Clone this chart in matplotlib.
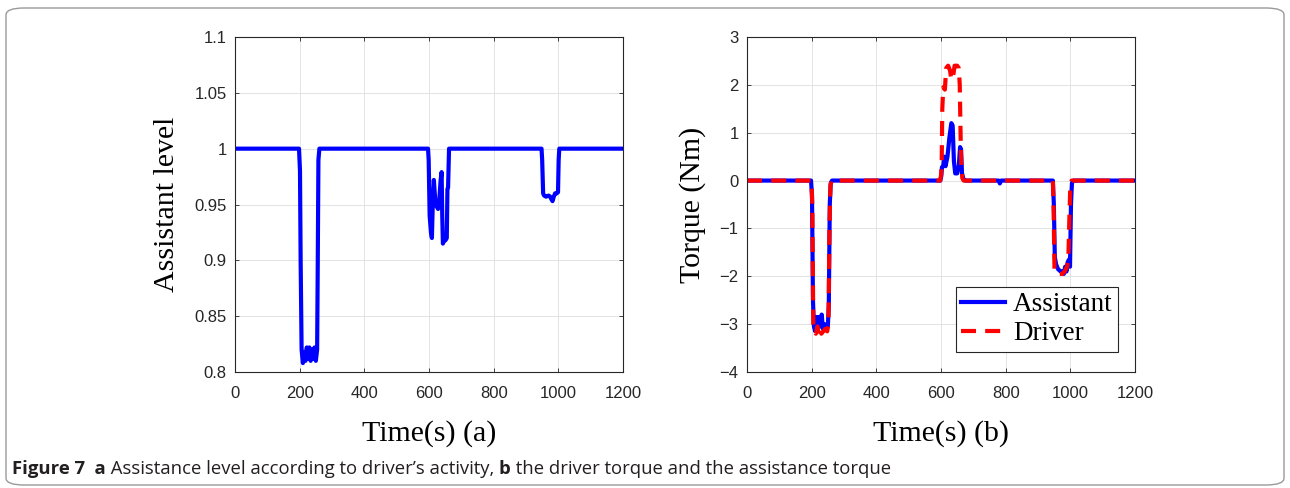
import matplotlib
matplotlib.use("Agg")
import matplotlib.pyplot as plt
from matplotlib.patches import FancyBboxPatch

# --- data ---
# (a) assistance level
level_t = [0, 198, 201, 203, 206, 210, 214, 218, 222, 226, 230, 234, 238, 242, 246, 250, 254, 256, 258, 261,
           597, 599, 602, 606, 609, 612, 615, 619, 624, 628, 632, 636, 639, 641, 643, 647, 651, 655, 657, 659, 662,
           948, 950, 953, 956, 962, 970, 975, 978, 982, 986, 990, 995, 999, 1001, 1003, 1200]
level_v = [1, 1, 0.98, 0.9, 0.82, 0.808, 0.818, 0.81, 0.822, 0.812, 0.822, 0.81, 0.82, 0.812, 0.822, 0.81, 0.82, 0.9, 0.99, 1.0,
           1, 0.99, 0.94, 0.925, 0.92, 0.955, 0.972, 0.955, 0.948, 0.946, 0.955, 0.972, 0.979, 0.94, 0.915, 0.918, 0.918, 0.92, 0.964, 0.965, 1.0,
           1, 0.99, 0.96, 0.958, 0.957, 0.958, 0.957, 0.955, 0.953, 0.957, 0.96, 0.96, 0.961, 0.99, 1, 1]

# (b) torques
assist_t = [0, 198, 201, 204, 207, 211, 215, 219, 223, 227, 231, 235, 240, 245, 250, 253, 256, 259, 263,
            598, 601, 603, 607, 610, 614, 620, 626, 632, 636, 640, 644, 650, 655, 659, 662, 665, 670, 675,
            778, 782, 786,
            946, 949, 952, 956, 962, 970, 976, 980, 984, 988, 992, 996, 999, 1002, 1005, 1010, 1200]
assist_v = [0, 0, -0.3, -2.5, -3.05, -3.15, -2.85, -3.1, -2.85, -3.05, -2.8, -3.1, -3.0, -3.1, -3.05, -2.6, -0.5, -0.05, 0,
            0, 0.1, 0.28, 0.3, 0.5, 0.3, 0.5, 0.9, 1.2, 1.15, 0.4, 0.15, 0.15, 0.3, 0.7, 0.65, 0.15, 0.02, 0,
            0, -0.06, 0,
            0, -0.5, -1.6, -1.75, -1.85, -1.9, -1.9, -1.95, -1.8, -1.9, -1.7, -1.65, -1.8, -0.5, -0.05, 0, 0]

driver_t = [0, 199, 202, 205, 209, 213, 218, 222, 226, 230, 236, 242, 248, 252, 255, 258, 262,
            597, 600, 602, 604, 607, 612, 616, 622, 628, 632, 638, 642, 650, 655, 658, 661, 663, 666, 670,
            946, 948, 951, 956, 965, 975, 982, 986, 990, 994, 997, 1000, 1004, 1200]
driver_v = [0, 0, -0.5, -3.0, -3.15, -3.2, -3.05, -3.2, -3.1, -3.2, -3.15, -3.1, -3.15, -3.0, -1.0, -0.1, 0,
            0, 0.1, 0.3, 1.5, 1.95, 1.9, 2.35, 2.4, 2.3, 2.1, 2.2, 2.4, 2.4, 2.35, 2.0, 0.8, 0.3, 0.05, 0,
            0, -0.5, -1.85, -1.95, -1.95, -1.95, -1.9, -1.85, -1.8, -1.6, -0.8, -0.1, 0, 0]

x_ticks = [0, 200, 400, 600, 800, 1000, 1200]
level_ticks = [0.8, 0.85, 0.9, 0.95, 1, 1.05, 1.1]
level_labels = ["0.8", "0.85", "0.9", "0.95", "1", "1.05", "1.1"]
torque_ticks = [-4, -3, -2, -1, 0, 1, 2, 3]

W, H = 1290, 488
fig = plt.figure(figsize=(W / 100, H / 100), dpi=100)

label_font = dict(family="Liberation Serif", size=21.5)


def style(ax):
    ax.grid(True, color="#e3e3e3", lw=0.7)
    ax.set_axisbelow(True)
    for s in ax.spines.values():
        s.set_color("#262626")
        s.set_linewidth(0.8)
    ax.tick_params(direction="in", length=3, width=0.6, color="#262626",
                   top=True, right=True, labelsize=12, labelcolor="#262626", pad=6)
    ax.tick_params(axis="x", pad=10)
    for lab in ax.get_xticklabels() + ax.get_yticklabels():
        lab.set_family("Liberation Sans")


ax1 = fig.add_axes([235 / W, 1 - 372 / H, 388 / W, 335 / H])
ax1.plot(level_t, level_v, color="#0000ff", lw=3)
ax1.set_xlim(0, 1200)
ax1.set_ylim(0.8, 1.1)
ax1.set_xticks(x_ticks)
ax1.set_yticks(level_ticks)
ax1.set_yticklabels(level_labels)
style(ax1)
ax1.set_xlabel("Time(s) (a)", **label_font, labelpad=14)
ax1.set_ylabel("Assistant level", **label_font, labelpad=10)

ax2 = fig.add_axes([747 / W, 1 - 372 / H, 388 / W, 335 / H])
ax2.plot(assist_t, assist_v, color="#0000ff", lw=3, label="Assistant")
ax2.plot(driver_t, driver_v, color="#ff0000", lw=3, dashes=(3.6, 2.2), label="Driver")
ax2.set_xlim(0, 1200)
ax2.set_ylim(-4, 3)
ax2.set_xticks(x_ticks)
ax2.set_yticks(torque_ticks)
style(ax2)
ax2.set_xlabel("Time(s) (b)", **label_font, labelpad=14)
ax2.set_ylabel("Torque (Nm)", **label_font, labelpad=10)
leg = ax2.legend(loc="lower right", prop=dict(family="Liberation Serif", size=19.5),
                 fancybox=False, framealpha=1, edgecolor="#262626", handlelength=1.6,
                 handletextpad=0.3, borderpad=0.2, labelspacing=0.15, borderaxespad=0,
                 bbox_to_anchor=(0.956, 0.06))
leg.get_frame().set_linewidth(0.8)

# rounded frame round the whole figure
frame = FancyBboxPatch((6 / W, 3 / H), 1278 / W, 477 / H,
                       boxstyle="round,pad=0,rounding_size=0.014",
                       transform=fig.transFigure, fill=False, ec="#9a9a9a", lw=1.0)
fig.patches.append(frame)

# caption, written piece by piece
cap_font = ["Liberation Sans Narrow", "Open Sans", "DejaVu Sans"]
pieces = [("Figure 7", "bold"), ("  a", "bold"), (" Assistance level according to driver\u2019s activity, ", "normal"),
          ("b", "bold"), (" the driver torque and the assistance torque", "normal")]
renderer = fig.canvas.get_renderer()
x = 12
for txt, wt in pieces:
    t = fig.text(x / W, 1 - 469 / H, txt, family=cap_font, weight=wt, size=13.3,
                 va="center", ha="left", color="#231f20")
    bb = t.get_window_extent(renderer)
    x = bb.x1

fig.savefig("out.png", dpi=100)
